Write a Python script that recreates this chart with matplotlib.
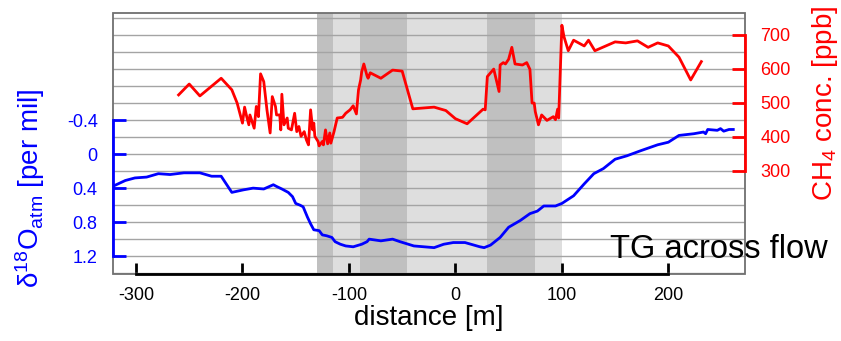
import numpy as np, matplotlib
matplotlib.use("Agg"); import matplotlib.pyplot as plt
from matplotlib.patches import Rectangle
from matplotlib.ticker import MultipleLocator

plt.rcParams.update({"font.family": ["Liberation Sans", "DejaVu Sans"], "axes.unicode_minus": False,
                     "mathtext.fontset": "custom", "mathtext.rm": "Liberation Sans",
                     "mathtext.it": "Liberation Sans:italic", "mathtext.bf": "Liberation Sans:bold"})

# d18O atm (per mil) along the transect
d18o_x = [-322, -310, -301, -290, -279, -268, -255, -240, -229, -220,
          -210, -199, -190, -180, -171, -168, -163, -157, -153, -150,
          -146, -143, -139, -136, -133, -128, -125, -121, -116, -113,
          -108, -103, -96, -88, -83, -81, -70, -59, -52, -39,
          -20, -11, -2, 9, 23, 27, 33, 42, 50, 61,
          70, 77, 83, 94, 100, 111, 121, 130, 139, 150,
          161, 174, 190, 200, 210, 224, 233, 235, 237, 246,
          249, 252, 257, 261]
d18o = [0.38, 0.31, 0.28, 0.27, 0.23, 0.24, 0.22, 0.22, 0.26, 0.26,
        0.45, 0.42, 0.40, 0.41, 0.36, 0.38, 0.41, 0.45, 0.50, 0.58,
        0.60, 0.62, 0.74, 0.82, 0.89, 0.90, 0.95, 0.96, 0.98, 1.03,
        1.06, 1.08, 1.09, 1.06, 1.03, 1.00, 1.02, 1.00, 1.03, 1.08,
        1.10, 1.06, 1.04, 1.04, 1.09, 1.10, 1.07, 0.98, 0.86, 0.78,
        0.70, 0.67, 0.61, 0.61, 0.58, 0.49, 0.35, 0.23, 0.17, 0.06,
        0.02, -0.04, -0.11, -0.14, -0.22, -0.24, -0.26, -0.24, -0.29, -0.28,
        -0.30, -0.27, -0.29, -0.29]

# CH4 concentration (ppb)
ch4_x = [-260, -250, -240, -220, -210, -205, -200, -198, -196, -194, -193, -189, -187, -185, -183,
         -180, -177, -174, -172, -169, -168, -165, -164, -163, -161, -158, -157, -154, -151, -149,
         -147, -145, -142, -140, -138, -136, -134, -133, -132, -129, -128, -125, -124, -122, -120,
         -118, -117, -114, -111, -106, -103, -99, -96, -93, -91, -89, -88, -86, -83, -82,
         -80, -70, -59, -50, -40, -20, -9, 0, 11, 26, 28, 30, 36, 41, 42,
         45, 47, 50, 53, 56, 63, 67, 70, 72, 74, 75, 77, 78, 81, 86,
         92, 94, 96, 97, 100, 102, 106, 111, 121, 125, 131, 150, 160, 171, 181,
         190, 200, 210, 221, 231]
ch4 = [523, 555, 520, 572, 538, 499, 440, 487, 459, 435, 464, 425, 489, 459, 585,
       562, 479, 411, 518, 489, 464, 464, 420, 525, 435, 455, 425, 420, 469, 415,
       430, 401, 415, 391, 376, 479, 420, 440, 401, 386, 373, 386, 376, 420, 379,
       411, 381, 415, 455, 457, 469, 479, 491, 467, 538, 567, 591, 614, 579, 572,
       588, 572, 596, 593, 482, 487, 477, 453, 438, 481, 479, 577, 599, 533, 611,
       618, 614, 628, 663, 614, 611, 618, 598, 499, 499, 474, 448, 435, 464, 448,
       459, 450, 481, 455, 728, 694, 653, 684, 667, 684, 653, 679, 676, 682, 663,
       676, 667, 634, 567, 621]

light_band = (-130, 100)
dark_bands = [(-130, -115), (-90, -45), (30, 75)]
xticks = [-300, -200, -100, 0, 100, 200]
d18o_ticks = [-0.4, 0, 0.4, 0.8, 1.2]
d18o_labels = ["-0.4", "0", "0.4", "0.8", "1.2"]
ch4_ticks = [300, 400, 500, 600, 700]

fig = plt.figure(figsize=(8.41, 3.41), dpi=100)
ax = fig.add_axes([113/841, 67/341, 632/841, 261/341])
ax.set_xlim(-321.6, 272); ax.set_ylim(1.41, -1.66)

ax.axvspan(*light_band, color="#dedede", lw=0, zorder=0.5)
for a, b in dark_bands:
    ax.axvspan(a, b, color="#c0c0c0", lw=0, zorder=0.6)

ax.yaxis.set_minor_locator(MultipleLocator(0.2))
ax.grid(True, which="both", axis="y", color="#a4a4a4", lw=1)
ax.plot(d18o_x, d18o, color="#0000ff", lw=2, zorder=3)

for s in ax.spines.values(): s.set_visible(False)
ax.add_patch(Rectangle((0, 0), 1, 1, transform=ax.transAxes, fill=False, ec="#707070", lw=1.3,
                       clip_on=False, zorder=2.4))
ax.spines["left"].set_visible(True); ax.spines["left"].set_color("#0000ff")
ax.spines["left"].set_linewidth(2); ax.spines["left"].set_bounds(-0.4, 1.2)
ax.spines["bottom"].set_visible(True); ax.spines["bottom"].set_color("black")
ax.spines["bottom"].set_linewidth(2); ax.spines["bottom"].set_bounds(-300, 200)

ax.set_yticks(d18o_ticks); ax.set_yticklabels(d18o_labels)
ax.tick_params(axis="y", which="major", direction="in", length=9.5, width=2, color="#0000ff",
               labelcolor="#0000ff", labelsize=13, pad=11)
ax.tick_params(axis="y", which="minor", length=0)
ax.set_xticks(xticks)
ax.tick_params(axis="x", direction="in", length=8, width=2, color="black", labelsize=13, pad=9)

ax.set_ylabel("δ$^{18}$O$_{\\mathrm{atm}}$ [per mil]", color="#0000ff", fontsize=20)
ax.yaxis.set_label_coords(-0.105, 0.33)
ax.set_xlabel("distance [m]", fontsize=20, labelpad=1)

tw = ax.twinx()
tw.set_ylim(-4, 764)
tw.plot(ch4_x, ch4, color="#ff0000", lw=2)
for s in tw.spines.values(): s.set_visible(False)
tw.spines["right"].set_visible(True); tw.spines["right"].set_color("#ff0000")
tw.spines["right"].set_linewidth(2); tw.spines["right"].set_bounds(300, 700)
tw.set_yticks(ch4_ticks)
tw.tick_params(axis="y", direction="in", length=9.5, width=2, color="#ff0000",
               labelcolor="#ff0000", labelsize=13, pad=11)
tw.set_ylabel("CH$_4$ conc. [ppb]", color="#ff0000", fontsize=20)
tw.yaxis.set_label_coords(1.103, 0.655)

fig.text(610/841, 83/341, "TG across flow", fontsize=23.5, va="baseline", ha="left")

plt.savefig("out.png", dpi=100)
